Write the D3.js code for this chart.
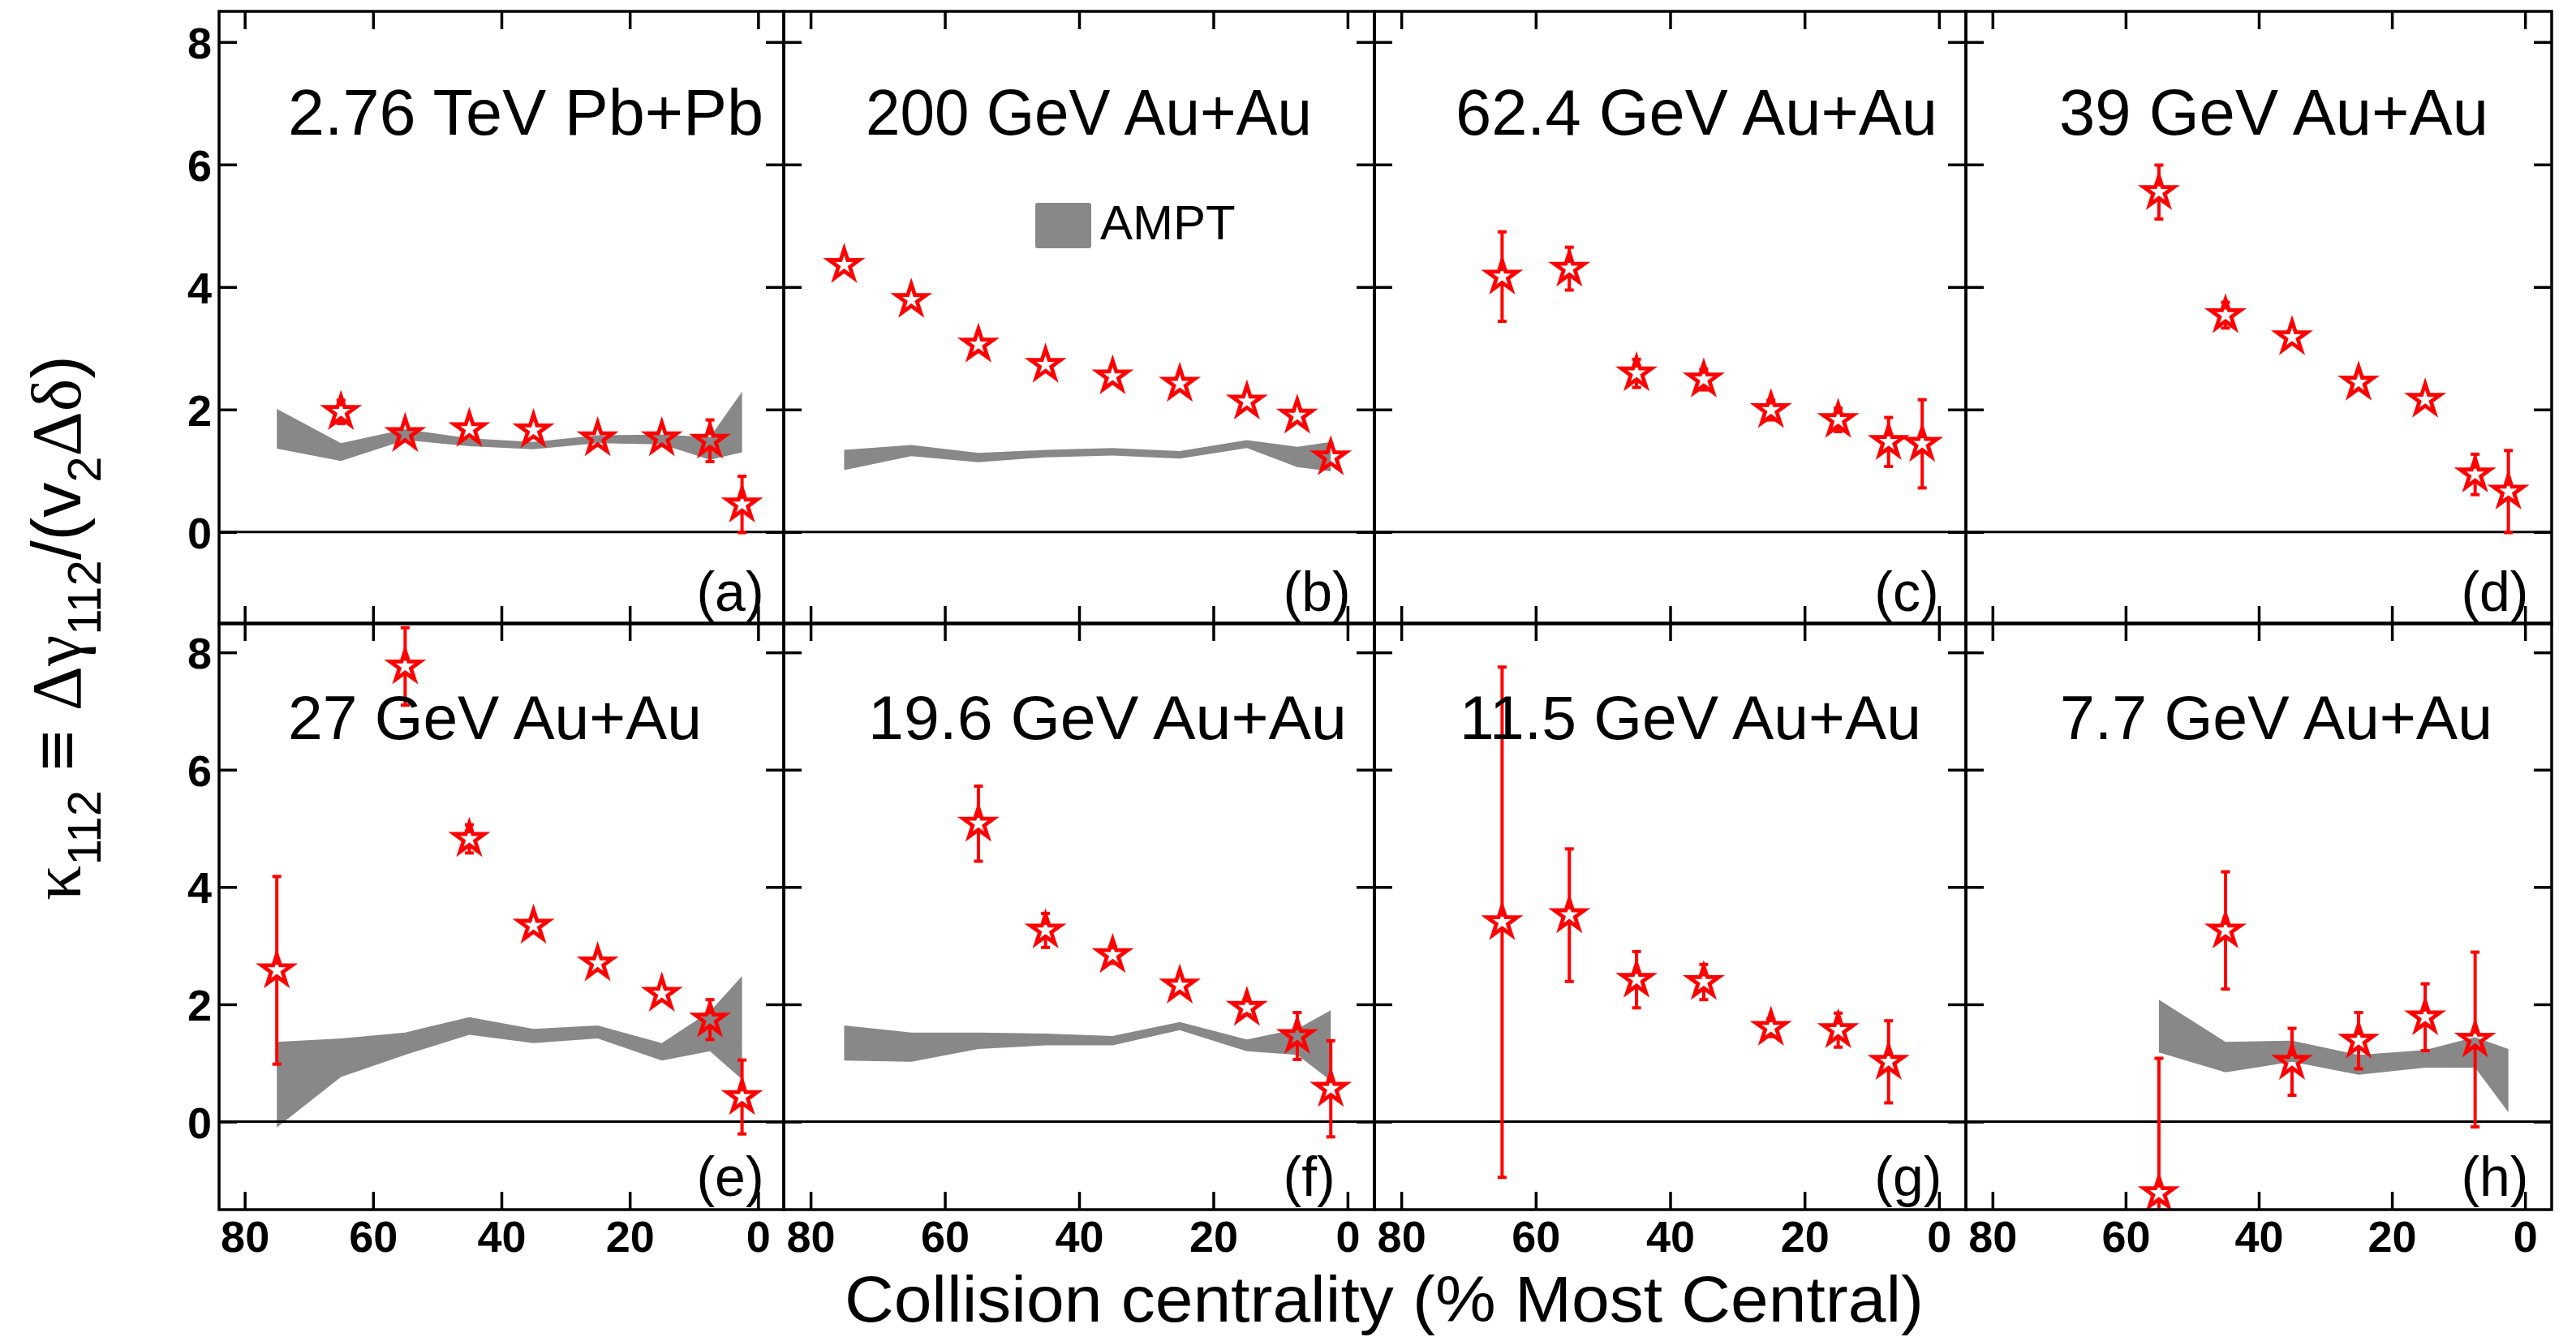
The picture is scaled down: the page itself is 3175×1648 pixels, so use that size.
<!DOCTYPE html>
<html>
<head>
<meta charset="utf-8">
<script src="https://cdn.jsdelivr.net/npm/d3@7"></script>
<style>
  body { margin: 0; background: #ffffff; }
  svg { display: block; }
</style>
</head>
<body>
<svg id="chart" width="3175" height="1648"></svg>
<script>
// ---------------- DATA ----------------
const centrality = [75, 65, 55, 45, 35, 25, 15, 7.5, 2.5];
const xTickValues = [80, 60, 40, 20, 0];
const yTickValues = [0, 2, 4, 6, 8];

const panelTitles = ["2.76 TeV Pb+Pb", "200 GeV Au+Au", "62.4 GeV Au+Au", "39 GeV Au+Au",
                     "27 GeV Au+Au", "19.6 GeV Au+Au", "11.5 GeV Au+Au", "7.7 GeV Au+Au"];
const panelLabels = ["(a)", "(b)", "(c)", "(d)", "(e)", "(f)", "(g)", "(h)"];
const legendLabel = "AMPT";
const xAxisTitle = "Collision centrality (% Most Central)";

// kappa_112 data (red stars) and statistical errors, per panel, aligned with centrality
const kappaA = [null, 1.96, 1.60, 1.68, 1.66, 1.53, 1.53, 1.49, 0.45];
const errA   = [null, 0.19, 0,    0,    0,    0,    0,    0.34, 0.46];
const kappaB = [4.36, 3.79, 3.06, 2.73, 2.54, 2.42, 2.13, 1.90, 1.22];
const errB   = [0, 0, 0, 0, 0, 0, 0, 0, 0];
const kappaC = [null, 4.17, 4.30, 2.59, 2.49, 1.99, 1.83, 1.47, 1.44];
const errC   = [null, 0.73, 0.35, 0.23, 0.17, 0.16, 0.19, 0.40, 0.72];
const kappaD = [null, null, 5.55, 3.54, 3.18, 2.44, 2.16, 0.94, 0.66];
const errD   = [null, null, 0.44, 0.21, 0,    0,    0,    0.33, 0.67];
const kappaE = [2.58, null, 7.76, 4.82, 3.34, 2.70, 2.18, 1.74, 0.42];
const errE   = [1.60, null, 0.66, 0.24, 0,    0,    0,    0.34, 0.63];
const kappaF = [null, null, 5.08, 3.26, 2.84, 2.32, 1.94, 1.46, 0.56];
const errF   = [null, null, 0.64, 0.29, 0.14, 0,    0.12, 0.40, 0.82];
const kappaG = [null, 3.40, 3.52, 2.42, 2.38, 1.60, 1.56, 1.02, null];
const errG   = [null, 4.35, 1.13, 0.48, 0.30, 0.15, 0.29, 0.70, null];
const kappaH = [null, null, -1.22, 3.26, 1.02, 1.38, 1.78, 1.40, null];
const errH   = [null, null, 2.30, 1.00, 0.57, 0.48, 0.57, 1.49, null];

// AMPT model bands (lower / upper edge)
const amptLoA = [1.36, 1.16, 1.50, 1.40, 1.35, 1.45, 1.43, 1.18, 1.30];
const amptHiA = [2.01, 1.45, 1.68, 1.53, 1.47, 1.58, 1.59, 1.55, 2.29];
const amptLoB = [1.01, 1.24, 1.14, 1.22, 1.25, 1.20, 1.37, 1.06, 0.99];
const amptHiB = [1.34, 1.42, 1.29, 1.34, 1.37, 1.32, 1.50, 1.39, 1.47];
const amptLoE = [-0.10, 0.76, 1.14, 1.48, 1.34, 1.42, 1.04, 1.20, 0.72];
const amptHiE = [1.36, 1.42, 1.52, 1.78, 1.58, 1.64, 1.34, 1.88, 2.48];
const amptLoF = [1.04, 1.02, 1.24, 1.30, 1.30, 1.56, 1.20, 1.14, 0.70];
const amptHiF = [1.64, 1.52, 1.52, 1.50, 1.46, 1.70, 1.40, 1.58, 1.90];
const amptLoH = [null, null, 1.18, 0.84, 1.02, 0.80, 0.92, 0.92, 0.16];
const amptHiH = [null, null, 2.08, 1.36, 1.38, 1.14, 1.22, 1.44, 1.24];

const panelKappa = [kappaA, kappaB, kappaC, kappaD, kappaE, kappaF, kappaG, kappaH];
const panelErr   = [errA, errB, errC, errD, errE, errF, errG, errH];
const panelAmptLo = [amptLoA, amptLoB, null, null, amptLoE, amptLoF, null, amptLoH];
const panelAmptHi = [amptHiA, amptHiB, null, null, amptHiE, amptHiF, null, amptHiH];

// ---------------- LAYOUT ----------------
const colEdges = [270, 966, 1694, 2423, 3145];
const rowEdges = [[14, 769], [768, 1491]];
const xDomain = [84, -4];
const yDomain = [-1.5, 8.5];
const titleLeft  = [355, 1067, 1794, 2538, 355, 1070, 1799, 2539];
const titleWidth = [586, 550, 594, 529, 510, 590, 569, 533];
const titleBase = [166, 911];
const titleSize = [79, 76];
const labelBase = [753, 1474];
const labelDataX = 9.6;

const FONT = "'Liberation Sans', Arial, Helvetica, sans-serif";
const SERIF = "'Liberation Serif', 'Times New Roman', serif";
const RED = "#ff0000";
const GRAY = "#888888";
const FRAME_W = 3.5;
const TICK_LEN = 22;

const svg = d3.select("#chart");
svg.append("rect").attr("width", 3175).attr("height", 1648).attr("fill", "#fff");

const starSym = d3.symbol().type(d3.symbolStar).size(430);

for (let p = 0; p < 8; p++) {
  const row = Math.floor(p / 4), col = p % 4;
  const x0 = colEdges[col], x1 = colEdges[col + 1];
  const [y0, y1] = rowEdges[row];
  const x = d3.scaleLinear().domain(xDomain).range([x0, x1]);
  const y = d3.scaleLinear().domain(yDomain).range([y1, y0]);

  const g = svg.append("g");
  const clipId = "clip" + p;
  g.append("clipPath").attr("id", clipId)
    .append("rect").attr("x", x0).attr("y", y0).attr("width", x1 - x0).attr("height", y1 - y0);
  const inner = g.append("g").attr("clip-path", `url(#${clipId})`);

  // AMPT band
  if (panelAmptLo[p]) {
    const pts = centrality.map((c, i) => ({ c, lo: panelAmptLo[p][i], hi: panelAmptHi[p][i] }))
      .filter(d => d.lo != null);
    inner.append("path")
      .attr("d", d3.area().x(d => x(d.c)).y0(d => y(d.lo)).y1(d => y(d.hi))(pts))
      .attr("fill", GRAY);
  }

  // zero line
  inner.append("line")
    .attr("x1", x0).attr("x2", x1).attr("y1", y(0)).attr("y2", y(0))
    .attr("stroke", "#000").attr("stroke-width", 3);

  // data points
  const pts = centrality.map((c, i) => ({ c, v: panelKappa[p][i], e: panelErr[p][i] }))
    .filter(d => d.v != null);
  const gap = 7;
  pts.forEach(d => {
    if (!d.e) return;
    const cx = x(d.c), cy = y(d.v), ytop = y(d.v + d.e), ybot = y(d.v - d.e);
    const eb = inner.append("g").attr("stroke", RED).attr("stroke-width", 4).attr("fill", "none");
    if (cy - ytop > gap) eb.append("line").attr("x1", cx).attr("x2", cx).attr("y1", ytop).attr("y2", cy - gap);
    if (ybot - cy > gap) eb.append("line").attr("x1", cx).attr("x2", cx).attr("y1", cy + gap).attr("y2", ybot);
    eb.append("line").attr("x1", cx - 5.5).attr("x2", cx + 5.5).attr("y1", ytop).attr("y2", ytop);
    eb.append("line").attr("x1", cx - 5.5).attr("x2", cx + 5.5).attr("y1", ybot).attr("y2", ybot);
  });
  inner.selectAll("path.star").data(pts).enter().append("path")
    .attr("class", "star")
    .attr("d", starSym)
    .attr("transform", d => `translate(${x(d.c)},${y(d.v)})`)
    .attr("fill", "none").attr("stroke", RED).attr("stroke-width", 4.8)
    .attr("stroke-linejoin", "miter");

  // axes (inward ticks on all four sides)
  const styleAxis = sel => {
    sel.select(".domain").remove();
    sel.selectAll(".tick line").attr("stroke", "#000").attr("stroke-width", FRAME_W);
  };
  const showX = row === 1, showY = col === 0;
  const bottomAx = g.append("g").attr("transform", `translate(0,${y1})`)
    .call(d3.axisBottom(x).tickValues(xTickValues).tickSize(-TICK_LEN).tickPadding(14)
      .tickFormat(showX ? d3.format("d") : () => ""));
  styleAxis(bottomAx);
  bottomAx.selectAll(".tick text").attr("font-family", FONT).attr("font-weight", "bold")
    .attr("font-size", 54).attr("fill", "#000");
  const topAx = g.append("g").attr("transform", `translate(0,${y0})`)
    .call(d3.axisTop(x).tickValues(xTickValues).tickSize(-TICK_LEN).tickFormat(() => ""));
  styleAxis(topAx);
  const leftAx = g.append("g").attr("transform", `translate(${x0},0)`)
    .call(d3.axisLeft(y).tickValues(yTickValues).tickSize(-TICK_LEN).tickPadding(9)
      .tickFormat(showY ? d3.format("d") : () => ""));
  styleAxis(leftAx);
  leftAx.selectAll(".tick text").attr("font-family", FONT).attr("font-weight", "bold")
    .attr("font-size", 54).attr("fill", "#000").attr("dy", "0.36em");
  const rightAx = g.append("g").attr("transform", `translate(${x1},0)`)
    .call(d3.axisRight(y).tickValues(yTickValues).tickSize(-TICK_LEN).tickFormat(() => ""));
  styleAxis(rightAx);

  // frame
  g.append("rect").attr("x", x0).attr("y", y0).attr("width", x1 - x0).attr("height", y1 - y0)
    .attr("fill", "none").attr("stroke", "#000").attr("stroke-width", FRAME_W);

  // title
  g.append("text").attr("x", titleLeft[p]).attr("y", titleBase[row])
    .attr("font-family", FONT).attr("font-size", titleSize[row]).attr("fill", "#000")
    .attr("textLength", titleWidth[p]).attr("lengthAdjust", "spacingAndGlyphs")
    .text(panelTitles[p]);

  // panel label
  g.append("text").attr("x", x(labelDataX)).attr("y", labelBase[row])
    .attr("font-family", FONT).attr("font-size", 68).attr("fill", "#000")
    .text(panelLabels[p]);

  // legend in panel (b)
  if (p === 1) {
    g.append("rect").attr("x", 1276).attr("y", 250).attr("width", 69).attr("height", 56)
      .attr("rx", 3).attr("fill", GRAY);
    g.append("text").attr("x", 1356).attr("y", 295)
      .attr("font-family", FONT).attr("font-size", 60).attr("fill", "#000").text(legendLabel);
  }
}

// x-axis title
svg.append("text").attr("x", 1041).attr("y", 1629)
  .attr("font-family", FONT).attr("font-size", 80).attr("fill", "#000")
  .attr("textLength", 1330).attr("lengthAdjust", "spacingAndGlyphs")
  .text(xAxisTitle);

// y-axis title: κ112 ≡ Δγ112/(v2Δδ)
const yt = svg.append("text")
  .attr("transform", "translate(99,774) rotate(-90)")
  .attr("text-anchor", "middle")
  .attr("font-family", FONT).attr("font-size", 86).attr("fill", "#000");
const sub = 25;
yt.append("tspan").attr("font-family", SERIF).text("κ");
yt.append("tspan").attr("font-size", 58).attr("dy", sub).text("112");
yt.append("tspan").attr("dy", -sub).text(" ≡ ");
yt.append("tspan").attr("font-family", SERIF).text("Δγ");
yt.append("tspan").attr("font-size", 58).attr("dy", sub).text("112");
yt.append("tspan").attr("dy", -sub).text("/(v");
yt.append("tspan").attr("font-size", 58).attr("dy", sub).text("2");
yt.append("tspan").attr("dy", -sub).attr("font-family", SERIF).text("Δδ");
yt.append("tspan").text(")");
</script>
</body>
</html>
